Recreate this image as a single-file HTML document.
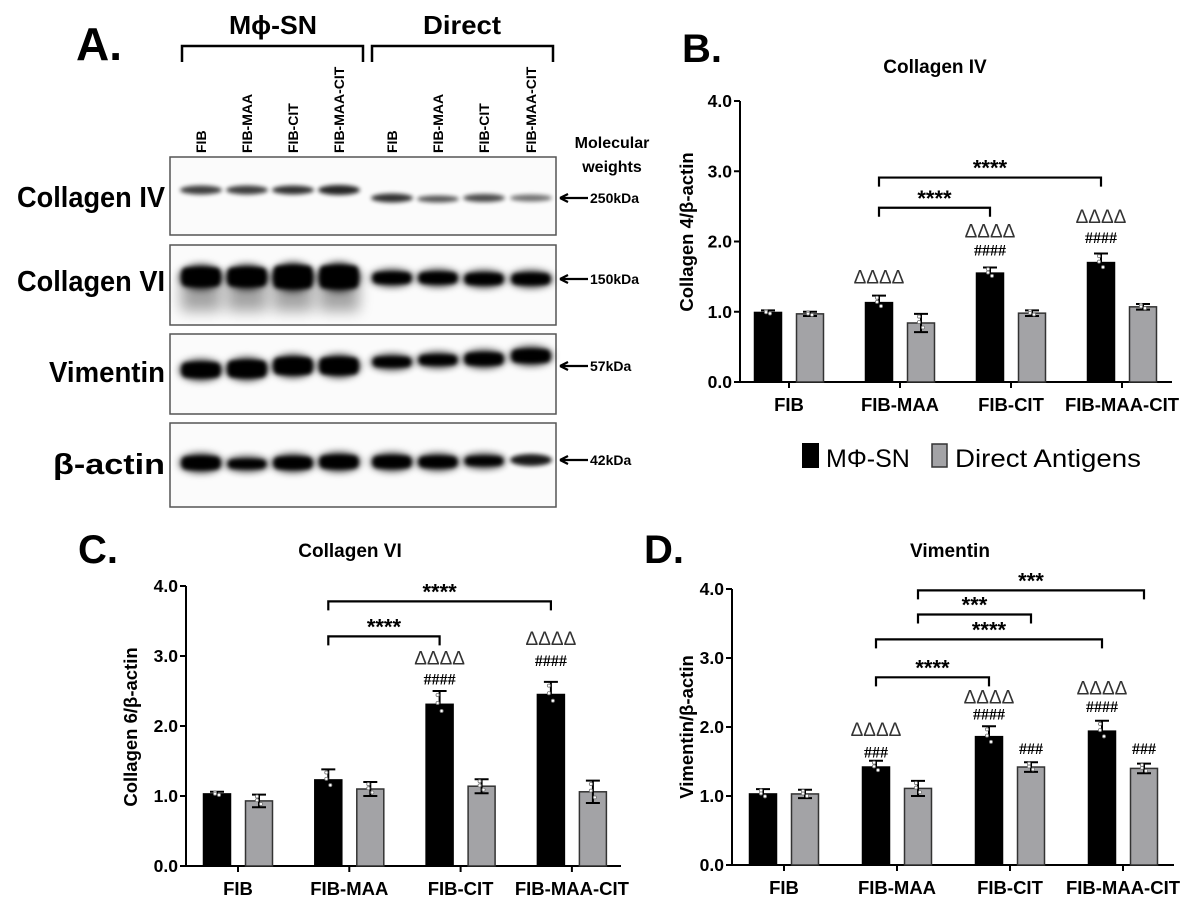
<!DOCTYPE html>
<html><head><meta charset="utf-8">
<style>
html,body{margin:0;padding:0;background:#fff;}
svg{display:block;font-family:"Liberation Sans",Arial,sans-serif;}
</style></head>
<body>
<svg id="fig" width="1196" height="901" viewBox="0 0 1196 901">
<defs>
<filter id="blur2" x="-50%" y="-100%" width="200%" height="300%"><feGaussianBlur stdDeviation="2.2"/></filter>
<filter id="blur4" x="-50%" y="-100%" width="200%" height="300%"><feGaussianBlur stdDeviation="4"/></filter>
<filter id="blur7" x="-50%" y="-100%" width="200%" height="300%"><feGaussianBlur stdDeviation="7"/></filter>
</defs>
<rect width="1196" height="901" fill="#fff"/>

<g>
<text x="76" y="60" font-size="46" font-weight="bold">A.</text>
<text x="273" y="34" font-size="26" font-weight="bold" text-anchor="middle" textLength="88" lengthAdjust="spacingAndGlyphs">Mϕ-SN</text>
<text x="462" y="34" font-size="26" font-weight="bold" text-anchor="middle" textLength="78" lengthAdjust="spacingAndGlyphs">Direct</text>
<path d="M182,62 V46 H363 V62" fill="none" stroke="#000" stroke-width="2.5"/>
<path d="M372,62 V46 H553 V62" fill="none" stroke="#000" stroke-width="2.5"/>
<g id="laneLabels" font-size="14" font-weight="bold"></g>
<text x="612" y="148" font-size="16" font-weight="bold" text-anchor="middle">Molecular</text>
<text x="612" y="172" font-size="16" font-weight="bold" text-anchor="middle">weights</text>
<g id="blots"></g>
</g>

<text x="682" y="62" font-size="40" font-weight="bold">B.</text>
<text x="935" y="73" font-size="19" font-weight="bold" text-anchor="middle">Collagen IV</text>
<text x="78" y="563" font-size="40" font-weight="bold">C.</text>
<text x="350" y="557" font-size="19" font-weight="bold" text-anchor="middle">Collagen VI</text>
<text x="644" y="563" font-size="40" font-weight="bold">D.</text>
<text x="950" y="557" font-size="19" font-weight="bold" text-anchor="middle">Vimentin</text>

<g>
<rect x="802" y="443" width="17" height="25" fill="#000"/>
<text x="826" y="467" font-size="25">MΦ-SN</text>
<rect x="932" y="444" width="15" height="23" fill="#a3a3a6" stroke="#333" stroke-width="1.5"/>
<text x="955" y="467" font-size="25" textLength="186" lengthAdjust="spacingAndGlyphs">Direct Antigens</text>
</g>

<g id="chartB"></g>
<g id="chartC"></g>
<g id="chartD"></g>
</svg>

<script>
const NS = "http://www.w3.org/2000/svg";
const categories = ["FIB", "FIB-MAA", "FIB-CIT", "FIB-MAA-CIT"];
const yTicks = [0, 1, 2, 3, 4];
const yTickLabels = ["0.0", "1.0", "2.0", "3.0", "4.0"];

const colIVBlack = [0.99, 1.13, 1.55, 1.70];
const colIVBlackErr = [0.03, 0.10, 0.08, 0.13];
const colIVGray = [0.97, 0.84, 0.98, 1.07];
const colIVGrayErr = [0.03, 0.13, 0.04, 0.04];
const colVIBlack = [1.03, 1.23, 2.31, 2.45];
const colVIBlackErr = [0.03, 0.15, 0.19, 0.18];
const colVIGray = [0.93, 1.10, 1.14, 1.06];
const colVIGrayErr = [0.09, 0.10, 0.10, 0.16];
const vimBlack = [1.03, 1.42, 1.86, 1.94];
const vimBlackErr = [0.07, 0.09, 0.15, 0.15];
const vimGray = [1.03, 1.11, 1.42, 1.40];
const vimGrayErr = [0.06, 0.11, 0.07, 0.07];

const sigB = [[1,0,2,0,2.48,"****"],[1,0,3,0,2.91,"****"]];
const sigC = [[1,0,2,0,3.28,"****"],[1,0,3,0,3.78,"****"]];
const sigD = [[1,0,2,0,2.72,"****"],[1,0,3,0,3.27,"****"],[1,1,2,1,3.63,"***"],[1,1,3,1,3.98,"***"]];
const markB = [[1,0,1.50,"ΔΔΔΔ"],[2,0,2.16,"ΔΔΔΔ"],[2,0,1.90,"####"],[3,0,2.36,"ΔΔΔΔ"],[3,0,2.08,"####"]];
const markC = [[2,0,2.98,"ΔΔΔΔ"],[2,0,2.69,"####"],[3,0,3.26,"ΔΔΔΔ"],[3,0,2.96,"####"]];
const markD = [[1,0,1.97,"ΔΔΔΔ"],[1,0,1.66,"###"],[2,0,2.44,"ΔΔΔΔ"],[2,0,2.21,"####"],[2,1,1.71,"###"],[3,0,2.57,"ΔΔΔΔ"],[3,0,2.32,"####"],[3,1,1.71,"###"]];

function mk(tag, attrs, parent) {
  const e = document.createElementNS(NS, tag);
  for (const k in attrs) e.setAttribute(k, attrs[k]);
  parent.appendChild(e);
  return e;
}

function drawChart(g, cfg) {
  const yScale = v => cfg.yZero - v * (cfg.yZero - cfg.yTop) / 4;
  const xTick = i => cfg.tick0 + cfg.step * i;
  const xBar = (i, s) => xTick(i) + (s === 0 ? -21 : 21);
  const bw = 27;
  const ya = mk("line", {x1: cfg.x0, y1: cfg.yTop, x2: cfg.x0, y2: cfg.yZero, stroke: "#000", "stroke-width": 2}, g);
  
  
  const xa = mk("line", {x1: cfg.x0 - 6, y1: cfg.yZero, x2: cfg.x1, y2: cfg.yZero, stroke: "#000", "stroke-width": 2}, g);
  
  
  yTicks.forEach((t, k) => {
    const y = yScale(t);
    const tl = mk("line", {x1: cfg.x0 - 6, y1: y, x2: cfg.x0, y2: y, stroke: "#000", "stroke-width": 2}, g);
    
    
    const tx = mk("text", {x: cfg.x0 - 8, y: y + 6, "font-size": 17.5, "font-weight": "bold", "text-anchor": "end"}, g);
    tx.textContent = yTickLabels[k];
    
    
  });
  categories.forEach((c, i) => {
    const x = xTick(i);
    const tl = mk("line", {x1: x, y1: cfg.yZero, x2: x, y2: cfg.yZero + 6, stroke: "#000", "stroke-width": 2}, g);
    
    
    const tx = mk("text", {x: x, y: cfg.yZero + 29, "font-size": 18.5, "font-weight": "bold", "text-anchor": "middle"}, g);
    tx.textContent = c;
    
    
  });
  const yt = mk("text", {x: 0, y: 0, "font-size": 18.5, "font-weight": "bold", "text-anchor": "middle",
    transform: "translate(" + cfg.titleX + "," + cfg.titleY + ") rotate(-90)"}, g);
  yt.textContent = cfg.yTitle;
  
  

  const series = [[cfg.black, cfg.blackErr, "#000"], [cfg.gray, cfg.grayErr, "#a3a3a6"]];
  series.forEach((s, si) => {
    s[0].forEach((v, i) => {
      const cx = xBar(i, si);
      const top = yScale(v);
      const r = mk("rect", {x: cx - bw / 2, y: top, width: bw, height: cfg.yZero - top, fill: s[2],
        stroke: si ? "#333" : "#000", "stroke-width": 1.5}, g);
      
      
      const e = s[1][i];
      const yh = yScale(v + e), yl = yScale(v - e);
      const eb = mk("path", {d: "M" + cx + "," + yl + " V" + yh + " M" + (cx - 7) + "," + yh + " H" + (cx + 7) +
        " M" + (cx - 7) + "," + yl + " H" + (cx + 7), stroke: "#000", "stroke-width": 2, fill: "none"}, g);
      
      
      [v + e * 0.7, v - e * 0.5, v + e * 0.1].forEach(dv => {
        const d = mk("circle", {cx: cx + (dv > v ? -2 : 2), cy: yScale(dv), r: 1.6, fill: "#fff", stroke: "#777", "stroke-width": 0.8}, g);
        
        
      });
    });
  });
  cfg.sig.forEach(s => {
    const xa1 = xBar(s[0], s[1]), xa2 = xBar(s[2], s[3]);
    const y = yScale(s[4]);
    const p = mk("path", {d: "M" + xa1 + "," + (y + 9) + " V" + y + " H" + xa2 + " V" + (y + 9), stroke: "#000", "stroke-width": 2.2, fill: "none"}, g);
    
    
    const t = mk("text", {x: (xa1 + xa2) / 2, y: y - 2, "font-size": 22, "font-weight": "bold", "text-anchor": "middle"}, g);
    t.textContent = s[5];
    
    
  });
  cfg.marks.forEach(m => {
    const x = xBar(m[0], m[1]);
    const isD = m[3].charAt(0) === "Δ";
    const t = mk("text", {x: x, y: yScale(m[2]) + 7, "font-size": isD ? 19 : 16,
      "font-family": isD ? "Liberation Sans, sans-serif" : "Liberation Serif, serif", "text-anchor": "middle",
      fill: isD ? "#333" : "#000", "font-weight": isD ? "normal" : "bold"}, g);
    t.textContent = m[3];
    
    
  });
}

drawChart(document.getElementById("chartB"), {x0: 740, x1: 1172, tick0: 789, step: 111, yZero: 382, yTop: 101,
  titleX: 693, titleY: 232, yTitle: "Collagen 4/β-actin",
  black: colIVBlack, blackErr: colIVBlackErr, gray: colIVGray, grayErr: colIVGrayErr, sig: sigB, marks: markB});
drawChart(document.getElementById("chartC"), {x0: 186, x1: 621, tick0: 238, step: 111.3, yZero: 866, yTop: 586,
  titleX: 137, titleY: 727, yTitle: "Collagen 6/β-actin",
  black: colVIBlack, blackErr: colVIBlackErr, gray: colVIGray, grayErr: colVIGrayErr, sig: sigC, marks: markC});
drawChart(document.getElementById("chartD"), {x0: 732, x1: 1174, tick0: 784, step: 113, yZero: 865, yTop: 589,
  titleX: 693, titleY: 727, yTitle: "Vimentin/β-actin",
  black: vimBlack, blackErr: vimBlackErr, gray: vimGray, grayErr: vimGrayErr, sig: sigD, marks: markD});

const laneNames = ["FIB", "FIB-MAA", "FIB-CIT", "FIB-MAA-CIT", "FIB", "FIB-MAA", "FIB-CIT", "FIB-MAA-CIT"];
const laneX = [201, 247, 293, 339, 392, 438, 484, 531];
const ll = document.getElementById("laneLabels");
laneNames.forEach((n, i) => {
  const t = mk("text", {x: 0, y: 0, transform: "translate(" + (laneX[i] + 5) + ",153) rotate(-90)"}, ll);
  t.textContent = n;
  
  
});
const blotRows = [
  {name: "Collagen IV", w: 148, top: 157, bot: 235, labY: 207, band: [190,190,190,190,198,199,198,198], h: [7,7,7,8,7,5,6,5], dark: [0.75,0.75,0.8,0.85,0.8,0.65,0.7,0.55], mw: "250kDa", ay: 198},
  {name: "Collagen VI", w: 148, top: 245, bot: 325, labY: 291, band: [277,277,277,277,278,278,279,279], h: [22,22,26,26,14,14,14,14], dark: [1,1,1,1,1,1,1,1], mw: "150kDa", ay: 279},
  {name: "Vimentin", w: 116, top: 334, bot: 414, labY: 382, band: [370,369,366,366,362,360,359,356], h: [18,20,20,20,13,13,15,16], dark: [1,1,1,1,0.95,0.95,1,1], mw: "57kDa", ay: 366},
  {name: "β-actin", w: 112, top: 423, bot: 507, labY: 474, band: [463,464,463,462,462,462,461,460], h: [16,12,15,16,15,14,12,10], dark: [1,0.95,1,1,1,1,0.95,0.9], mw: "42kDa", ay: 460}
];
const blots = document.getElementById("blots");
blotRows.forEach((r, ri) => {
  const box = mk("rect", {x: 170, y: r.top, width: 386, height: r.bot - r.top, fill: "#fbfbfb", stroke: "#555", "stroke-width": 1.5}, blots);
  
  
  laneX.forEach((x, i) => {
    if (ri === 1 && i < 4) {
      const sm = mk("rect", {x: x - 20, y: r.band[i], width: 40, height: 34, fill: "#000", opacity: 0.35, filter: "url(#blur7)"}, blots);
      
      
    }
    const b = mk("ellipse", {cx: x, cy: r.band[i], rx: 21, ry: r.h[i] / 2 + 1, fill: "#000", opacity: r.dark[i],
      filter: r.h[i] > 10 ? "url(#blur4)" : "url(#blur2)"}, blots);
    
    
    if (r.h[i] > 10) {
      const b2 = mk("rect", {x: x - 19, y: r.band[i] - r.h[i] / 2 + 2, width: 38, height: r.h[i] - 4, fill: "#000", rx: 4, filter: "url(#blur2)"}, blots);
      
      
    }
  });
  const t = mk("text", {x: 165, y: r.labY, "font-size": 29, "font-weight": "bold", "text-anchor": "end", textLength: r.w, lengthAdjust: "spacingAndGlyphs"}, blots);
  t.textContent = r.name;
  
  
  const a = mk("path", {d: "M560," + r.ay + " H588 M560," + r.ay + " l8,-4 M560," + r.ay + " l8,4", stroke: "#000", "stroke-width": 2.2, fill: "none"}, blots);
  
  
  const m = mk("text", {x: 590, y: r.ay + 5, "font-size": 14, "font-weight": "bold"}, blots);
  m.textContent = r.mw;
  
  
});
</script>
</body></html>
